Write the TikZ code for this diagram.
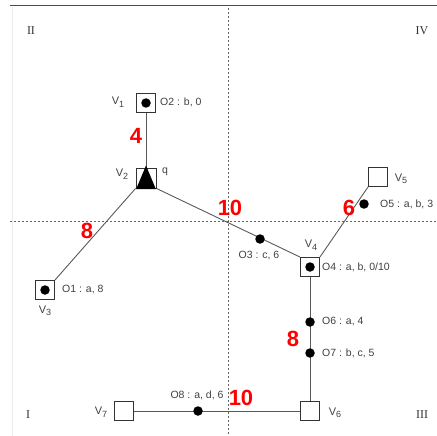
\documentclass[tikz,border=0pt]{standalone}
\usepackage{fontspec}
\setsansfont{Liberation Sans}
\newfontfamily\romanfont{Liberation Serif}
\newcommand{\vlab}[1]{V\raisebox{-2.5pt}{\fontsize{9}{9}\selectfont #1}}
\begin{document}
\begin{tikzpicture}[x=1pt,y=-1pt,
  vbox/.style={draw=black!80,line width=0.9pt,fill=white,minimum size=19pt,inner sep=0pt},
  edge/.style={draw=black!65,line width=0.9pt},
  odot/.style={circle,fill=black,minimum size=9.5pt,inner sep=0pt},
  lbl/.style={font=\sffamily\fontsize{10.5}{11}\selectfont,text=black!75,inner sep=1pt},
  vl/.style={font=\sffamily\fontsize{11}{11}\selectfont,text=black!75,inner sep=1pt},
  wt/.style={font=\sffamily\bfseries\fontsize{22}{22}\selectfont,text=red,inner sep=0pt},
  quad/.style={font=\romanfont\fontsize{12}{12}\selectfont,text=black!80},
  axis/.style={draw=black!60,line width=0.7pt,dash pattern=on 2pt off 2pt}]
\useasboundingbox (0,0) rectangle (437,436);
% frame and axes
\draw[black!70,line width=1pt] (10,6) -- (437,6);
\draw[black!8,line width=0.6pt] (12,7) -- (12,436);
\draw[axis] (228,8) -- (228,436);
\draw[axis] (10,221) -- (437,221);
% quadrant labels
\node[quad] (q2) at (31,31) {II};
\node[quad] (q4) at (422,31) {IV};
\node[quad] (q1) at (28,415) {I};
\node[quad] (q3) at (422,415) {III};
% vertices
\node[vbox] (v1) at (146,103) {};
\node[vbox,minimum size=20pt] (v2) at (146,178) {};
\node[vbox] (v3) at (45,290) {};
\node[vbox] (v4) at (310,267) {};
\node[vbox] (v5) at (378,177) {};
\node[vbox] (v6) at (310,411) {};
\node[vbox] (v7) at (124,411) {};
% edges
\draw[edge] (v1.south) -- (v2.north);
\draw[edge] (v2.south west) -- (v3.north east);
\draw[edge] (v2.south east) -- (v4.north west);
\draw[edge] (v4.north east) -- (v5.south west);
\draw[edge] (v4.south) -- (v6.north);
\draw[edge] (v7.east) -- (v6.west);
% redraw boxes on top
\node[vbox] at (v1) {};
\node[vbox,minimum size=20pt] at (v2) {};
\node[vbox] at (v3) {};
\node[vbox] at (v4) {};
\node[vbox] at (v5) {};
\node[vbox] at (v6) {};
\node[vbox] at (v7) {};
% contents
\node[odot] (d1) at (v1) {};
\node[odot] (d3) at (v3) {};
\node[odot] (d4) at (v4) {};
\fill[black] ([xshift=0.6pt,yshift=-0.6pt]v2.south west) -- ([xshift=-0.6pt,yshift=-0.6pt]v2.south east) -- ([yshift=2pt]v2.north) -- cycle;
% objects on edges
\node[odot] (o3) at (260,239) {};
\node[odot] (o5) at (364,204) {};
\node[odot] (o6) at (310,322) {};
\node[odot] (o7) at (310,353) {};
\node[odot] (o8) at (198,411) {};
% vertex labels
\node[vl] (l1) at (118,102) {\vlab{1}};
\node[vl] (l2) at (122,174) {\vlab{2}};
\node[vl] (l3) at (45,311) {\vlab{3}};
\node[vl] (l4) at (311,245) {\vlab{4}};
\node[vl] (l5) at (401,179) {\vlab{5}};
\node[vl] (l6) at (335,413) {\vlab{6}};
\node[vl] (l7) at (101,412) {\vlab{7}};
% object labels
\node[lbl,anchor=west] (t2) at (159,102) {O2 : b, 0};
\node[lbl,anchor=west] (tq) at (161,172) {q};
\node[lbl,anchor=west] (t1) at (61,290) {O1 : a, 8};
\node[lbl] (t3) at (259,256) {O3 : c, 6};
\node[lbl,anchor=west] (t4) at (321,267) {O4 : a, b, 0/10};
\node[lbl,anchor=west] (t5) at (379,204) {O5 : a, b, 3};
\node[lbl,anchor=west] (t6) at (321,322) {O6 : a, 4};
\node[lbl,anchor=west] (t7) at (321,353) {O7 : b, c, 5};
\node[lbl] (t8) at (197,395) {O8 : a, d, 6};
% weights
\node[wt] (w1) at (136,136) {4};
\node[wt] (w2) at (87,231) {8};
\node[wt] (w3) at (230,208) {10};
\node[wt] (w4) at (349,208) {6};
\node[wt] (w5) at (293,339) {8};
\node[wt] (w6) at (241,398) {10};
\end{tikzpicture}
\end{document}
